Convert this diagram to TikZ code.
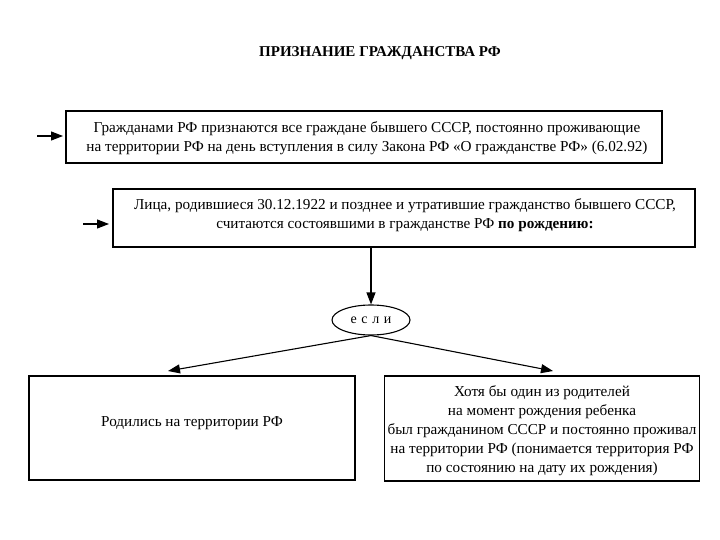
\documentclass[tikz,border=0pt]{standalone}
\usepackage{fontspec}
\setmainfont{Liberation Serif}
\usetikzlibrary{shapes.geometric,arrows.meta}
\begin{document}
\begin{tikzpicture}[x=1pt,y=-1pt,
  box/.style={draw,line width=1.1pt,inner sep=0pt},
  txt/.style={font=\fontsize{15.2}{19}\selectfont,align=center,inner sep=0pt},
  arr/.style={-{Triangle[length=12pt,width=9pt]},line width=1.1pt}]
\useasboundingbox (0,0) rectangle (720,540);
\node[font=\bfseries\fontsize{15}{17}\selectfont] (title) at (380,53) {ПРИЗНАНИЕ ГРАЖДАНСТВА РФ};
% box 1
\node[box,minimum width=596pt,minimum height=52pt] (b1) at (364,137) {};
\node[txt] (t1) at (367,138) {Гражданами РФ признаются все граждане бывшего СССР, постоянно проживающие\\на территории РФ на день вступления в силу Закона РФ «О гражданстве РФ» (6.02.92)};
\coordinate (a1s) at (37,136);
\coordinate (a1e) at (63,136);
\draw[arr] (a1s) -- (a1e);
% box 2
\node[box,minimum width=582pt,minimum height=58pt] (b2) at (404,218) {};
\node[txt] (t2) at (405,215.5) {Лица, родившиеся 30.12.1922 и позднее и утратившие гражданство бывшего СССР,\\считаются состоявшими в гражданстве РФ \textbf{по рождению:}};
\coordinate (a2s) at (83,224);
\coordinate (a2e) at (109,224);
\draw[arr] (a2s) -- (a2e);
% ellipse
\node[draw,ellipse,line width=1.1pt,minimum width=78pt,minimum height=30pt,inner sep=0pt,font=\fontsize{14}{16}\selectfont] (e) at (371,320) {е\,\,с\,\,л\,\,и};
\coordinate (b2b) at (371,247);
\draw[arr] (b2b) -- (e.north);
% bottom boxes
\node[box,minimum width=326pt,minimum height=104pt] (b3) at (192,428) {};
\node[txt] (t3) at (192,423) {Родились на территории РФ};
\node[box,minimum width=315pt,minimum height=105pt] (b4) at (542,428.5) {};
\node[txt] (t4) at (542,431) {Хотя бы один из родителей\\на момент рождения ребенка\\был гражданином СССР и постоянно проживал\\на территории РФ (понимается территория РФ\\по состоянию на дату их рождения)};
\coordinate (l3) at (168,371);
\coordinate (l4) at (553,371);
\draw[arr] (e.south) -- (l3);
\draw[arr] (e.south) -- (l4);
\end{tikzpicture}
\end{document}
